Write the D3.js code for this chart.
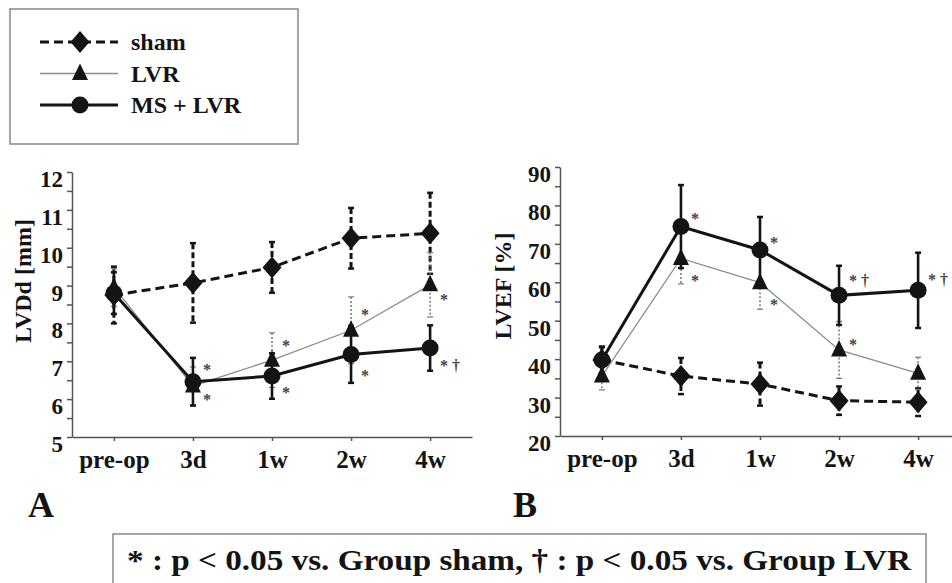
<!DOCTYPE html>
<html>
<head>
<meta charset="utf-8">
<script src="https://cdn.jsdelivr.net/npm/d3@7/dist/d3.min.js"></script>
<style>
  html, body { margin: 0; padding: 0; background: #fff; }
  svg { display: block; }
</style>
</head>
<body>
<div id="chart"></div>
<script>
// time points on the x axis
const timepoints = ["pre-op", "3d", "1w", "2w", "4w"];

// Panel A: LVDd [mm], mean and error
const lvddSham = [8.75, 9.07, 9.48, 10.25, 10.38];
const lvddShamErr = [0.75, 1.05, 0.67, 0.8, 1.07];
const lvddLvr = [8.95, 6.35, 7.03, 7.82, 9.02];
const lvddLvrErr = [0.5, 0.5, 0.72, 0.88, 0.85];
const lvddMs = [8.8, 6.46, 6.61, 7.18, 7.35];
const lvddMsErr = [0.55, 0.63, 0.6, 0.75, 0.6];

// Panel B: LVEF [%], mean and error
const lvefSham = [39.8, 35.6, 33.5, 29.2, 28.8];
const lvefShamErr = [3.3, 4.7, 5.6, 3.7, 3.6];
const lvefLvr = [35.6, 66.2, 59.9, 42.4, 36.3];
const lvefLvrErr = [3.6, 6.6, 6.9, 7.4, 4.2];
const lvefMs = [39.8, 74.5, 68.4, 56.6, 57.9];
const lvefMsErr = [3.5, 10.8, 8.6, 7.7, 9.8];

// y ticks
const lvddTicks = [5, 6, 7, 8, 9, 10, 11, 12];
const lvefTicks = [20, 30, 40, 50, 60, 70, 80, 90];

// significance marks: [time index, y value, label]
const lvddMarks = [[1, 6.85, "*"], [1, 6.06, "*"], [2, 7.48, "*"], [2, 6.24, "*"],
                   [3, 8.3, "*"], [3, 6.69, "*"], [4, 8.7, "*"], [4, 6.95, "* \u2020"]];
const lvefMarks = [[1, 77.2, "*"], [1, 61.1, "*"], [2, 71.0, "*"], [2, 54.9, "*"],
                   [3, 61.1, "* \u2020"], [3, 44.5, "*"], [4, 61.4, "* \u2020"]];

const seriesNames = ["sham", "LVR", "MS + LVR"];

const FONT = "Liberation Serif";
const INK = "#141414";

const styles = {
    sham: { stroke: INK, width: 3, dash: "9,5", errDash: "6,3", errWidth: 3, errStroke: INK, marker: "diamond" },
    lvr: { stroke: "#8c8c8c", width: 1.3, dash: null, errDash: "2,2", errWidth: 1.5, errStroke: "#777", marker: "triangle" },
    ms: { stroke: INK, width: 3, dash: null, errDash: null, errWidth: 2.6, errStroke: INK, marker: "circle" }
};

function markerPath(type) {
    if (type === "diamond") return "M0,-11L9.5,0L0,11L-9.5,0Z";
    if (type === "triangle") return "M0,-10L8,6.5L-8,6.5Z";
    return d3.symbol().type(d3.symbolCircle).size(Math.PI * 72)();
}

const svg = d3.select("#chart")
    .append("svg")
    .attr("width", 952)
    .attr("height", 583)
    .attr("font-family", FONT);

svg.append("rect").attr("width", 952).attr("height", 583).attr("fill", "#fff");

function drawPanel(opts) {
    const g = svg.append("g");

    const x = d3.scalePoint()
        .domain(timepoints)
        .range(opts.xRange)
        .padding(0.53);

    const y = d3.scaleLinear()
        .domain(opts.yDomain)
        .range(opts.yRange);

    // y axis with minor ticks
    const minor = [];
    for (let v = opts.yDomain[0]; v <= opts.yDomain[1] + 1e-9; v += opts.minorStep) minor.push(+v.toFixed(2));

    const yAxis = g.append("g")
        .attr("transform", `translate(${opts.xRange[0]},0)`)
        .call(d3.axisLeft(y)
            .tickValues(minor)
            .tickSize(5)
            .tickSizeOuter(0)
            .tickPadding(4)
            .tickFormat(d => opts.ticks.includes(d) ? d : ""));

    yAxis.attr("font-family", FONT);
    yAxis.selectAll("path, line").attr("stroke", "#555").attr("stroke-width", 1.5);
    yAxis.selectAll("text")
        .attr("font-size", "23px")
        .attr("font-weight", "bold")
        .attr("fill", INK)
        .attr("dy", "0.63em");

    const xAxis = g.append("g")
        .attr("transform", `translate(0,${opts.yRange[0]})`)
        .call(d3.axisBottom(x).tickSize(4).tickSizeOuter(0).tickPadding(9));

    xAxis.attr("font-family", FONT);
    xAxis.selectAll("path, line").attr("stroke", "#555").attr("stroke-width", 1.5);
    xAxis.selectAll("text")
        .attr("font-size", "25px")
        .attr("font-weight", "bold")
        .attr("fill", INK);

    // axis title
    g.append("text")
        .attr("transform", `translate(${opts.titleX},${opts.titleY}) rotate(-90)`)
        .attr("text-anchor", "middle")
        .attr("dominant-baseline", "central")
        .attr("font-size", "24px")
        .attr("font-weight", "bold")
        .attr("fill", INK)
        .text(opts.title);

    const series = [
        { key: "sham", values: opts.sham, err: opts.shamErr },
        { key: "lvr", values: opts.lvr, err: opts.lvrErr },
        { key: "ms", values: opts.ms, err: opts.msErr }
    ];

    // error bars first
    series.forEach(s => {
        const st = styles[s.key];
        const eb = g.append("g");
        s.values.forEach((v, i) => {
            const cx = x(timepoints[i]);
            eb.append("line")
                .attr("x1", cx).attr("x2", cx)
                .attr("y1", y(v + s.err[i])).attr("y2", y(v - s.err[i]))
                .attr("stroke", st.errStroke)
                .attr("stroke-width", st.errWidth)
                .attr("stroke-dasharray", st.errDash);
            [v + s.err[i], v - s.err[i]].forEach(e => {
                eb.append("line")
                    .attr("x1", cx - 3).attr("x2", cx + 3)
                    .attr("y1", y(e)).attr("y2", y(e))
                    .attr("stroke", st.errStroke)
                    .attr("stroke-width", s.key === "lvr" ? 1.2 : 2.5);
            });
        });
    });

    const line = d3.line()
        .x((d, i) => x(timepoints[i]))
        .y(d => y(d));

    // lines: thin LVR beneath, then sham, then MS + LVR
    ["lvr", "sham", "ms"].forEach(k => {
        const s = series.find(d => d.key === k);
        const st = styles[k];
        g.append("path")
            .datum(s.values)
            .attr("d", line)
            .attr("fill", "none")
            .attr("stroke", st.stroke)
            .attr("stroke-width", st.width)
            .attr("stroke-dasharray", st.dash);
    });

    ["lvr", "sham", "ms"].forEach(k => {
        const s = series.find(d => d.key === k);
        g.selectAll(null)
            .data(s.values)
            .enter()
            .append("path")
            .attr("transform", (d, i) => `translate(${x(timepoints[i])},${y(d)})`)
            .attr("d", markerPath(styles[k].marker))
            .attr("fill", INK);
    });

    // significance marks
    g.selectAll(null)
        .data(opts.marks)
        .enter()
        .append("text")
        .attr("x", d => x(timepoints[d[0]]) + 10)
        .attr("y", d => y(d[1]) + 8)
        .attr("font-size", "16px")
        .attr("font-weight", "bold")
        .attr("fill", "#444")
        .text(d => d[2]);

    // panel letter
    svg.append("text")
        .attr("x", opts.letterX)
        .attr("y", 517)
        .attr("font-size", "36px")
        .attr("font-weight", "bold")
        .attr("fill", INK)
        .text(opts.letter);
}

drawPanel({
    xRange: [72, 472], yDomain: [5, 12], yRange: [437, 172], minorStep: 0.5,
    ticks: lvddTicks, title: "LVDd [mm]", titleX: 23, titleY: 281,
    sham: lvddSham, shamErr: lvddShamErr, lvr: lvddLvr, lvrErr: lvddLvrErr,
    ms: lvddMs, msErr: lvddMsErr, marks: lvddMarks, letter: "A", letterX: 28
});

drawPanel({
    xRange: [560, 960], yDomain: [20, 90], yRange: [436, 167], minorStep: 5,
    ticks: lvefTicks, title: "LVEF [%]", titleX: 503, titleY: 286,
    sham: lvefSham, shamErr: lvefShamErr, lvr: lvefLvr, lvrErr: lvefLvrErr,
    ms: lvefMs, msErr: lvefMsErr, marks: lvefMarks, letter: "B", letterX: 513
});

// legend
const legend = svg.append("g");
legend.append("rect")
    .attr("x", 10).attr("y", 9)
    .attr("width", 288).attr("height", 135)
    .attr("fill", "#fff")
    .attr("stroke", "#888")
    .attr("stroke-width", 1.5);

const legendKeys = ["sham", "lvr", "ms"];
const legendY = d3.scalePoint().domain(legendKeys).range([42, 105]);

legendKeys.forEach((k, i) => {
    const st = styles[k];
    const ly = legendY(k);
    legend.append("line")
        .attr("x1", 40).attr("x2", 118)
        .attr("y1", ly).attr("y2", ly)
        .attr("stroke", st.stroke)
        .attr("stroke-width", st.width)
        .attr("stroke-dasharray", st.dash);
    legend.append("path")
        .attr("transform", `translate(80,${ly})`)
        .attr("d", markerPath(st.marker))
        .attr("fill", INK);
    legend.append("text")
        .attr("x", 131)
        .attr("y", ly + 8)
        .attr("font-size", "24px")
        .attr("font-weight", "bold")
        .attr("fill", INK)
        .text(seriesNames[i]);
});

// footnote box
svg.append("rect")
    .attr("x", 113).attr("y", 534)
    .attr("width", 813).attr("height", 70)
    .attr("fill", "#fff")
    .attr("stroke", "#888")
    .attr("stroke-width", 1.5);

svg.append("text")
    .attr("x", 127)
    .attr("y", 570)
    .attr("font-size", "30px")
    .attr("font-weight", "bold")
    .attr("fill", INK)
    .attr("textLength", 784)
    .attr("lengthAdjust", "spacingAndGlyphs")
    .text("* : p < 0.05 vs. Group sham, \u2020 : p < 0.05 vs. Group LVR");
</script>
</body>
</html>
